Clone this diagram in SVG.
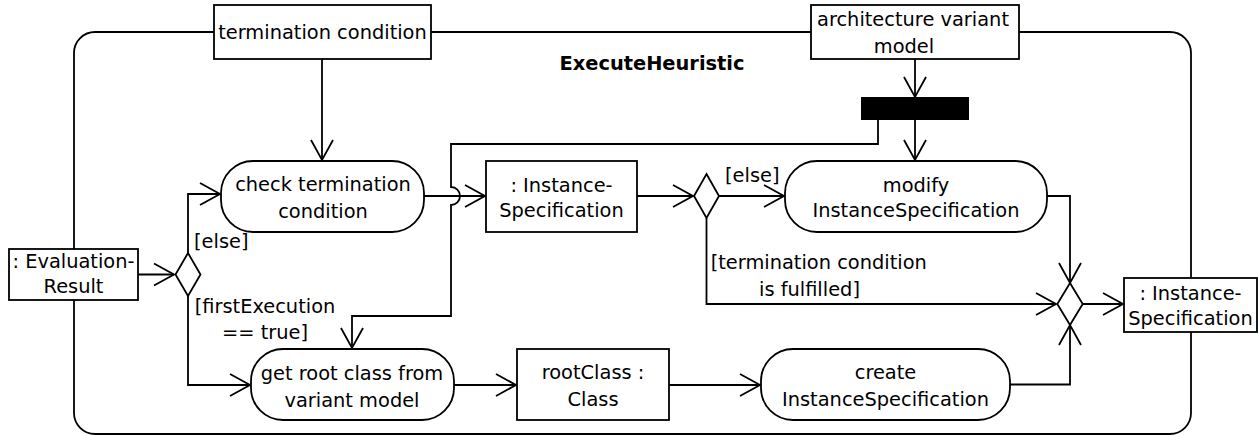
<svg xmlns="http://www.w3.org/2000/svg" width="1258" height="436" viewBox="0 0 1258 436">
<style>
.ln{fill:none;stroke:#000;stroke-width:1.8}
.box{fill:#fff;stroke:#000;stroke-width:1.8}
.t{font-family:"DejaVu Sans",sans-serif;font-size:19.4px;fill:#000;text-anchor:middle}
.s{text-anchor:start}
.b{font-weight:bold}
</style>
<defs>
<marker id="arr" markerUnits="userSpaceOnUse" viewBox="-22 -12 24 24" refX="0" refY="0" markerWidth="24" markerHeight="24" orient="auto" overflow="visible">
<path d="M-20,-11 L0,0 L-20,11" fill="none" stroke="#000" stroke-width="1.8"/>
</marker>
</defs>
<rect id="frame" class="ln" x="74" y="32" width="1117" height="402" rx="21"/>
<text class="t b" x="652" y="70">ExecuteHeuristic</text>
<g id="connectors" class="ln" marker-end="url(#arr)">
<path d="M322,59 V160"/>
<path d="M915,59 V97"/>
<path d="M915,120 V160"/>
<path d="M878,120 V144 H451 V187 A9,9 0 0 1 451,205 V316 H352 V348"/>
<path d="M138,274.5 H174"/>
<path d="M188,253 V194 H220"/>
<path d="M188,296 V385 H250"/>
<path d="M424,196 H485"/>
<path d="M637,196 H693"/>
<path d="M719,196 H784"/>
<path d="M706.5,218 V304 H1056"/>
<path d="M1047,196 H1070 V283"/>
<path d="M1010,384.5 H1070 V325"/>
<path d="M1083,304 H1123"/>
<path d="M454,385 H516"/>
<path d="M669,385 H760"/>
</g>
<g id="termination-condition">
<rect class="box" x="214" y="5" width="217" height="54"/>
<text class="t" x="322.5" y="39">termination condition</text>
</g>
<g id="architecture-variant-model">
<rect class="box" x="811" y="5" width="208" height="54"/>
<text class="t" x="913" y="26">architecture variant</text>
<text class="t" x="904" y="53">model</text>
</g>
<g id="fork">
<rect x="861" y="97" width="108" height="23" fill="#000"/>
</g>
<g id="evaluation-result">
<rect class="box" x="9" y="249" width="129" height="51"/>
<text class="t" x="73.5" y="268">: Evaluation-</text>
<text class="t" x="73.5" y="293">Result</text>
</g>
<g id="decision1">
<path class="box" d="M188,253 L200.5,274.5 L188,296 L175.5,274.5 Z"/>
<text class="t s" x="194" y="248">[else]</text>
<text class="t" x="265" y="312.7">[firstExecution</text>
<text class="t" x="265" y="339">== true]</text>
</g>
<g id="check-termination-condition">
<rect class="box" x="221" y="161" width="203" height="71" rx="32"/>
<text class="t" x="323" y="191">check termination</text>
<text class="t" x="323" y="217.7">condition</text>
</g>
<g id="instance-specification">
<rect class="box" x="486" y="161" width="151" height="71"/>
<text class="t" x="561.5" y="191.7">: Instance-</text>
<text class="t" x="561.5" y="217.3">Specification</text>
</g>
<g id="decision2">
<path class="box" d="M706.5,174 L719,196 L706.5,218 L694,196 Z"/>
<text class="t s" x="725" y="181.7">[else]</text>
<text class="t s" x="710.7" y="269.3">[termination condition</text>
<text class="t s" x="759" y="296">is fulfilled]</text>
</g>
<g id="modify-instance-specification">
<rect class="box" x="785" y="161" width="262" height="71" rx="32"/>
<text class="t" x="916" y="191.7">modify</text>
<text class="t" x="916" y="217.3">InstanceSpecification</text>
</g>
<g id="merge">
<path class="box" d="M1070,283 L1082.7,304 L1070,325 L1057.3,304 Z"/>
</g>
<g id="output-instance-specification">
<rect class="box" x="1124" y="278" width="133" height="54"/>
<text class="t" x="1190.5" y="300">: Instance-</text>
<text class="t" x="1190.5" y="325">Specification</text>
</g>
<g id="get-root-class">
<rect class="box" x="251" y="349" width="203" height="71" rx="32"/>
<text class="t" x="352" y="380">get root class from</text>
<text class="t" x="352" y="406.7">variant model</text>
</g>
<g id="root-class">
<rect class="box" x="517" y="349" width="152" height="71"/>
<text class="t" x="593" y="379.3">rootClass :</text>
<text class="t" x="593" y="406">Class</text>
</g>
<g id="create-instance-specification">
<rect class="box" x="761" y="349" width="249" height="71" rx="32"/>
<text class="t" x="885.5" y="379">create</text>
<text class="t" x="885.5" y="406">InstanceSpecification</text>
</g>
</svg>
